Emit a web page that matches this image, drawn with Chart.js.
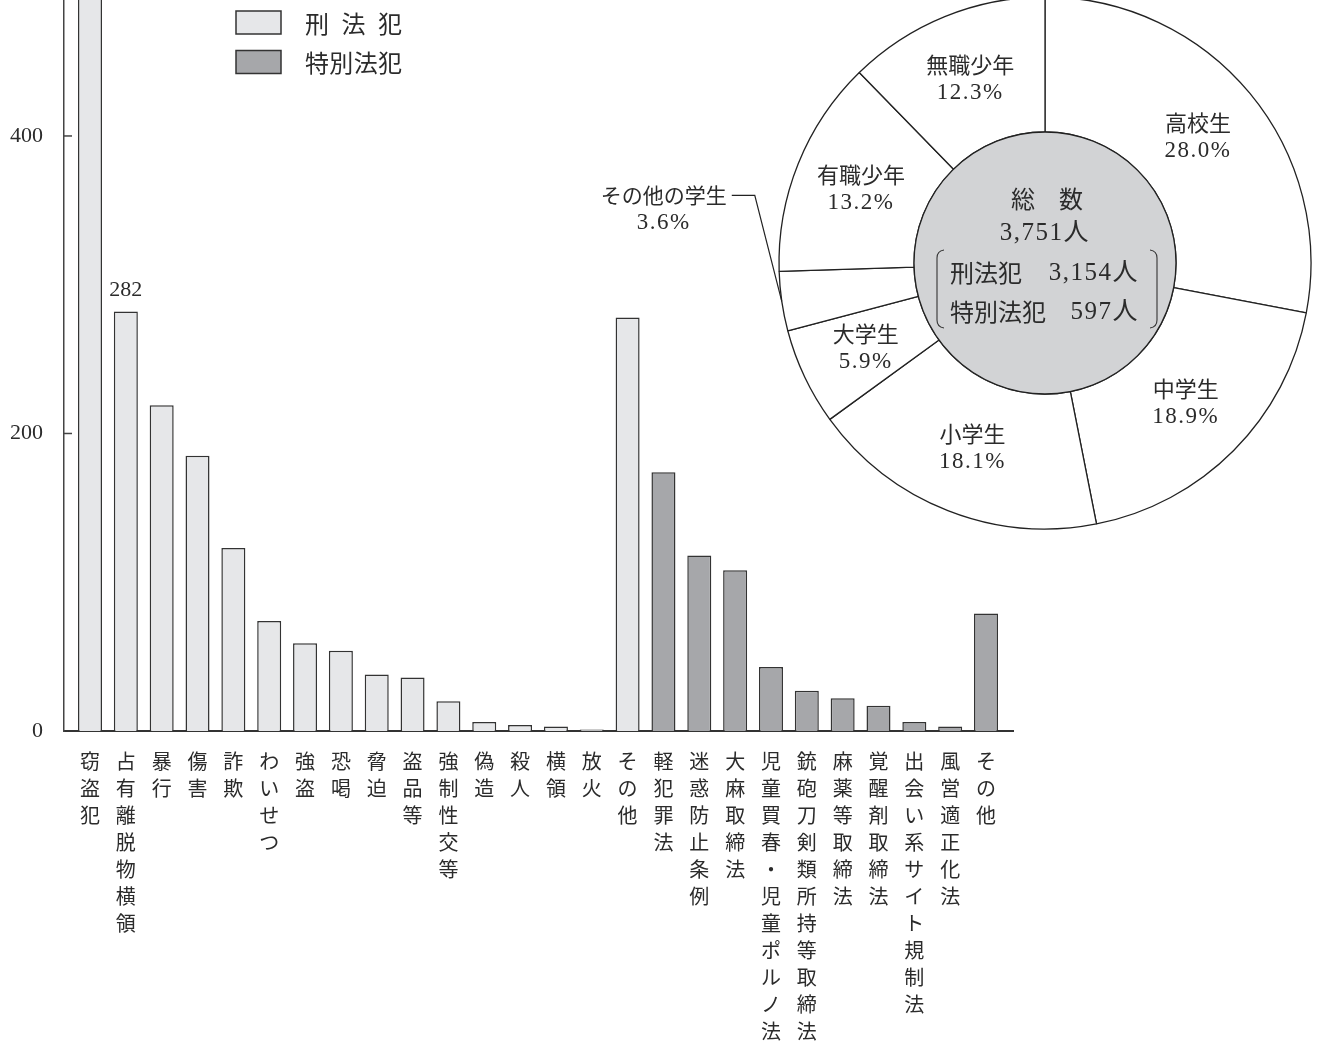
<!DOCTYPE html>
<html>
<head>
<meta charset="utf-8">
<script src="https://cdn.jsdelivr.net/npm/chart.js@4/dist/chart.umd.min.js"></script>
<style>
html,body{margin:0;padding:0;background:#fff;overflow:hidden}
#wrap{position:relative;width:1320px;height:1043px}
#barBox{position:absolute;left:0;top:0;width:1320px;height:1043px}
#pieBox{position:absolute;left:575px;top:-7px;width:740px;height:540px}
</style>
</head>
<body>
<div id="wrap">
  <div id="barBox"><canvas id="bar"></canvas></div>
  <div id="pieBox"><canvas id="pie"></canvas></div>
</div>
<script>
// ---------- data ----------
const categories = ['窃盗犯','占有離脱物横領','暴行','傷害','詐欺','わいせつ','強盗','恐喝','脅迫','盗品等','強制性交等','偽造','殺人','横領','放火','その他',
  '軽犯罪法','迷惑防止条例','大麻取締法','児童買春・児童ポルノ法','銃砲刀剣類所持等取締法','麻薬等取締法','覚醒剤取締法','出会い系サイト規制法','風営適正化法','その他'];
const penalValues = [1772,282,219,185,123,74,59,54,38,36,20,6,4,3,1,278];
const specialValues = [174,118,108,43,27,22,17,6,3,79];
const yTicks = [0,200,400];
const yMax = 491.4;
const legendLabels = ['刑法犯','特別法犯'];
const labelledBarIndex = 1;

const pieLabels = ['高校生','中学生','小学生','大学生','その他の学生','有職少年','無職少年'];
const piePercents = [28.0,18.9,18.1,5.9,3.6,13.2,12.3];
const outsideLabelIndex = 4;
const totalTitle = '総　数';

// ---------- styles ----------
const LIGHT = '#e6e7e9', DARK = '#a6a7aa', INK = '#2b2b2b';
const CJK = '"Noto Sans CJK JP"';
const SERIF = '"Liberation Serif", "Noto Sans CJK JP"';

const nPenal = penalValues.length;
const sum = a => a.reduce((s,v)=>s+v,0);
const fmt = n => n.toLocaleString('en-US');

// ---------- bar chart ----------
const barDecor = {
  id: 'barDecor',
  afterDraw(chart) {
    const ctx = chart.ctx, ys = chart.scales.y, area = chart.chartArea;
    ctx.save();
    ctx.strokeStyle = '#444'; ctx.lineWidth = 1.5;
    yTicks.forEach(v => {
      if (v === 0) return;
      const py = ys.getPixelForValue(v);
      ctx.beginPath(); ctx.moveTo(area.left, py); ctx.lineTo(area.left + 8, py); ctx.stroke();
    });
    const el = chart.getDatasetMeta(0).data[labelledBarIndex];
    ctx.font = '22px ' + SERIF; ctx.fillStyle = INK;
    ctx.textAlign = 'center'; ctx.textBaseline = 'middle';
    ctx.fillText(String(penalValues[labelledBarIndex]), el.x, el.y - 21);
    const boxX = 236, boxW = 45, boxH = 23, textX = 305, textW = 97;
    chart.data.datasets.forEach((ds, i) => {
      const top = 11 + i * 39.5;
      ctx.fillStyle = ds.backgroundColor; ctx.fillRect(boxX, top, boxW, boxH);
      ctx.strokeStyle = '#333'; ctx.lineWidth = 1.5; ctx.strokeRect(boxX, top, boxW, boxH);
      ctx.font = '24px ' + CJK; ctx.fillStyle = INK; ctx.textAlign = 'center'; ctx.textBaseline = 'middle';
      const chars = Array.from(ds.label);
      const cw = 24, gap = chars.length > 1 ? (textW - cw * chars.length) / (chars.length - 1) : 0;
      chars.forEach((c, k) => ctx.fillText(c, textX + cw / 2 + k * (cw + gap), top + boxH / 2 + 1));
    });
    ctx.restore();
  }
};

new Chart(document.getElementById('bar'), {
  type: 'bar',
  data: {
    datasets: [
      { label: legendLabels[0], data: penalValues.map((v,i)=>({x:i, y:v})),
        backgroundColor: LIGHT, borderColor: '#333', borderWidth: 1.5, grouped: false,
        barPercentage: 0.67, categoryPercentage: 1 },
      { label: legendLabels[1], data: specialValues.map((v,i)=>({x:i + nPenal, y:v})),
        backgroundColor: DARK, borderColor: '#333', borderWidth: 1.5, grouped: false,
        barPercentage: 0.67, categoryPercentage: 1 }
    ]
  },
  options: {
    responsive: true, maintainAspectRatio: false, animation: false, events: [],
    layout: { padding: { left: 0, top: 0, right: 307, bottom: 0 } },
    plugins: { legend: { display: false }, tooltip: { enabled: false } },
    scales: {
      x: {
        type: 'linear', min: -0.7254, max: 25.753, offset: false,
        grid: { display: false, drawTicks: false, offset: false },
        border: { color: '#333', width: 2 },
        afterBuildTicks: s => { s.ticks = categories.map((_, i) => ({ value: i })); },
        ticks: {
          autoSkip: false, maxRotation: 0, minRotation: 0, padding: 17, color: INK,
          font: { family: CJK, size: 20, lineHeight: 1.35 },
          callback: v => categories[v] ? Array.from(categories[v]) : ''
        },
        afterFit: s => { s.height = 312; s.paddingLeft = 0; s.paddingRight = 0; }
      },
      y: {
        min: 0, max: yMax,
        grid: { display: false, drawTicks: false },
        border: { color: '#444', width: 1.5 },
        afterBuildTicks: s => { s.ticks = yTicks.map(v => ({ value: v })); },
        ticks: { padding: 21, color: INK, font: { family: '"Liberation Serif"', size: 22 } },
        afterFit: s => { s.width = 64; s.paddingTop = 0; s.paddingBottom = 0; }
      }
    }
  },
  plugins: [barDecor]
});

// ---------- doughnut ----------
const pieDecor = {
  id: 'pieDecor',
  afterDatasetsDraw(chart) {
    const ctx = chart.ctx, meta = chart.getDatasetMeta(0);
    const a0 = meta.data[0];
    const cx = a0.x, cy = a0.y, rin = a0.innerRadius, rout = a0.outerRadius;
    ctx.save();
    ctx.beginPath(); ctx.arc(cx, cy, rin, 0, Math.PI * 2);
    ctx.fillStyle = '#d2d3d5'; ctx.fill();
    ctx.lineWidth = 1.3; ctx.strokeStyle = '#222'; ctx.stroke();

    ctx.fillStyle = INK; ctx.textBaseline = 'middle';
    meta.data.forEach((arc, i) => {
      if (i === outsideLabelIndex) return;
      const p = arc.tooltipPosition();
      ctx.textAlign = 'center';
      ctx.font = '22px ' + CJK; ctx.letterSpacing = '0px';
      ctx.fillText(pieLabels[i], p.x, p.y - 14);
      ctx.font = '23px ' + SERIF; ctx.letterSpacing = '1.5px';
      ctx.fillText(piePercents[i].toFixed(1) + '%', p.x, p.y + 14);
    });
    ctx.letterSpacing = '0px';

    const arc = meta.data[outsideLabelIndex];
    const mid = (arc.startAngle + arc.endAngle) / 2;
    const ex = cx + Math.cos(mid) * rout, ey = cy + Math.sin(mid) * rout;
    const elbowX = ex - 27, elbowY = ey - 106;
    ctx.strokeStyle = '#222'; ctx.lineWidth = 1.2;
    ctx.beginPath(); ctx.moveTo(elbowX - 23, elbowY); ctx.lineTo(elbowX, elbowY); ctx.lineTo(ex, ey); ctx.stroke();
    ctx.font = '21px ' + CJK; ctx.textAlign = 'right';
    ctx.fillText(pieLabels[outsideLabelIndex], elbowX - 28, elbowY);
    const w = ctx.measureText(pieLabels[outsideLabelIndex]).width;
    ctx.font = '23px ' + SERIF; ctx.textAlign = 'center'; ctx.letterSpacing = '1.5px';
    ctx.fillText(piePercents[outsideLabelIndex].toFixed(1) + '%', elbowX - 28 - w / 2, elbowY + 28);
    ctx.letterSpacing = '0px';

    const penalTotal = sum(penalValues), specialTotal = sum(specialValues);
    ctx.font = '24px ' + CJK; ctx.textAlign = 'center';
    ctx.fillText(totalTitle, cx + 2, cy - 64);
    ctx.font = '25px ' + SERIF; ctx.letterSpacing = '1.5px';
    ctx.fillText(fmt(penalTotal + specialTotal) + '人', cx, cy - 30);
    ctx.letterSpacing = '0px';
    ctx.textAlign = 'left'; ctx.font = '24px ' + CJK;
    ctx.fillText(legendLabels[0], cx - 95, cy + 10);
    ctx.fillText(legendLabels[1], cx - 95, cy + 49);
    ctx.textAlign = 'right'; ctx.font = '25px ' + SERIF; ctx.letterSpacing = '1.5px';
    ctx.fillText(fmt(penalTotal) + '人', cx + 94, cy + 10);
    ctx.fillText(fmt(specialTotal) + '人', cx + 94, cy + 49);
    ctx.letterSpacing = '0px';
    ctx.strokeStyle = '#333'; ctx.lineWidth = 1.1;
    const bt = cy - 13, bb = cy + 65;
    ctx.beginPath();
    ctx.moveTo(cx - 101, bt); ctx.quadraticCurveTo(cx - 108, bt + 1, cx - 108, bt + 8);
    ctx.lineTo(cx - 108, bb - 8); ctx.quadraticCurveTo(cx - 108, bb - 1, cx - 101, bb);
    ctx.moveTo(cx + 105, bt); ctx.quadraticCurveTo(cx + 112, bt + 1, cx + 112, bt + 8);
    ctx.lineTo(cx + 112, bb - 8); ctx.quadraticCurveTo(cx + 112, bb - 1, cx + 105, bb);
    ctx.stroke();
    ctx.restore();
  }
};

new Chart(document.getElementById('pie'), {
  type: 'doughnut',
  data: {
    labels: pieLabels,
    datasets: [{ data: piePercents, backgroundColor: '#ffffff', borderColor: '#222', borderWidth: 1.3 }]
  },
  options: {
    responsive: true, maintainAspectRatio: false, animation: false, events: [],
    radius: 266, cutout: '49.25%', rotation: 0,
    layout: { padding: { left: 200, right: 0, top: 0, bottom: 0 } },
    plugins: { legend: { display: false }, tooltip: { enabled: false } }
  },
  plugins: [pieDecor]
});
</script>
</body>
</html>
